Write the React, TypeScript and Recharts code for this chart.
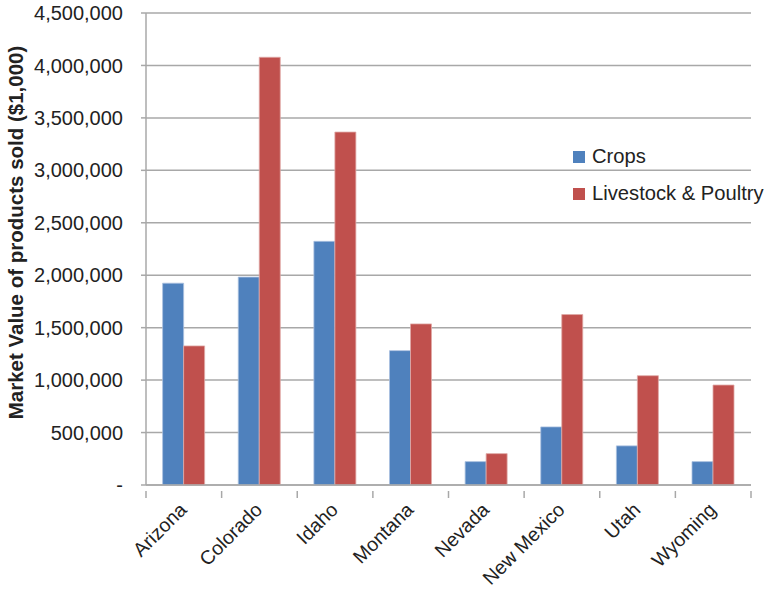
import React from 'react';
import { BarChart, Bar, XAxis, YAxis, CartesianGrid, Legend } from 'recharts';

// Market value of agricultural products sold, by state ($1,000)
const states = ['Arizona', 'Colorado', 'Idaho', 'Montana', 'Nevada', 'New Mexico', 'Utah', 'Wyoming'];
const crops = [1924000, 1982000, 2323000, 1281000, 223000, 554000, 373000, 223000];
const livestock = [1326000, 4078000, 3365000, 1536000, 299000, 1625000, 1042000, 953000];
const yTicks = [0, 500000, 1000000, 1500000, 2000000, 2500000, 3000000, 3500000, 4000000, 4500000];

const data = states.map((state, i) => ({
  state,
  crops: crops[i],
  livestock: livestock[i],
}));

const FONT = '"Liberation Sans", Arial, Helvetica, sans-serif';
const TEXT = '#222222';
const GRID = '#a8a8a8';
const BLUE = '#4F81BD';
const RED = '#C0504D';

const formatY = (v: number) => (v === 0 ? '-' : v.toLocaleString('en-US'));

// Category label rotated 45°, plus tick marks on the band boundaries
const StateTick = (props: any) => {
  const { x, y, payload, index, visibleTicksCount } = props;
  const half = payload && payload.offset ? payload.offset : 37.8;
  const isLast = index === (visibleTicksCount ?? states.length) - 1;
  const tx = x + 4;
  const ty = y + 18;
  return (
    <g>
      <line x1={x - half} y1={y - 2} x2={x - half} y2={y + 5} stroke={GRID} strokeWidth={1.5} />
      {isLast && <line x1={x + half} y1={y - 2} x2={x + half} y2={y + 5} stroke={GRID} strokeWidth={1.5} />}
      <text
        x={tx}
        y={ty}
        textAnchor="end"
        transform={`rotate(-45, ${tx}, ${ty})`}
        fill={TEXT}
        fontSize={19.5}
        fontFamily={FONT}
      >
        {payload.value}
      </text>
    </g>
  );
};

// Vertical axis title, sitting a little above the middle of the axis
const AxisTitle = (props: any) => {
  const vb = props.viewBox || { x: 0, y: 13, width: 146, height: 472 };
  const cx = vb.x + 15;
  const cy = vb.y + vb.height / 2 - 16.5;
  return (
    <text
      x={cx}
      y={cy}
      transform={`rotate(-90, ${cx}, ${cy})`}
      textAnchor="middle"
      dominantBaseline="central"
      fontFamily={FONT}
      fontSize={20.5}
      fontWeight="bold"
      fill={TEXT}
    >
      Market Value of products sold ($1,000)
    </text>
  );
};

const LegendContent = (props: any) => {
  const { payload } = props;
  return (
    <div style={{ fontFamily: FONT, fontSize: 20.2, color: TEXT }}>
      {(payload || []).map((entry: any, i: number) => (
        <div key={i} style={{ display: 'flex', alignItems: 'center', height: 37 }}>
          <span
            style={{
              display: 'inline-block',
              width: 12,
              height: 12,
              background: entry.color,
              marginRight: 7,
            }}
          />
          <span style={{ whiteSpace: 'nowrap' }}>{entry.value}</span>
        </div>
      ))}
    </div>
  );
};

export default function App() {
  return (
    <div style={{ position: 'absolute', left: 0, top: 0, background: '#fff' }}>
      <BarChart
        width={769}
        height={589}
        data={data}
        margin={{ top: 13, right: 18, left: 0, bottom: 0 }}
        barCategoryGap="22%"
        barGap={0}
      >
        <CartesianGrid vertical={false} stroke={GRID} strokeWidth={1.5} />
        <XAxis
          dataKey="state"
          height={104}
          interval={0}
          tickLine={false}
          axisLine={{ stroke: GRID, strokeWidth: 1.5 }}
          tick={<StateTick />}
        />
        <YAxis
          width={146}
          domain={[0, 4500000]}
          ticks={yTicks}
          interval={0}
          tickFormatter={formatY}
          tickSize={5}
          tickMargin={18}
          tickLine={{ stroke: GRID, strokeWidth: 1.5 }}
          axisLine={{ stroke: GRID, strokeWidth: 1.5 }}
          tick={{ fill: TEXT, fontSize: 20, fontFamily: FONT }}
          label={<AxisTitle />}
        />
        <Legend
          layout="vertical"
          verticalAlign="middle"
          align="center"
          content={<LegendContent />}
          wrapperStyle={{ position: 'absolute', left: 573, top: 138, width: 200 }}
        />
        <Bar dataKey="crops" name="Crops" fill={BLUE} stroke="#a9c0e0" strokeWidth={0.8} isAnimationActive={false} />
        <Bar dataKey="livestock" name="Livestock & Poultry" fill={RED} stroke="#e0a9a7" strokeWidth={0.8} isAnimationActive={false} />
      </BarChart>
    </div>
  );
}
